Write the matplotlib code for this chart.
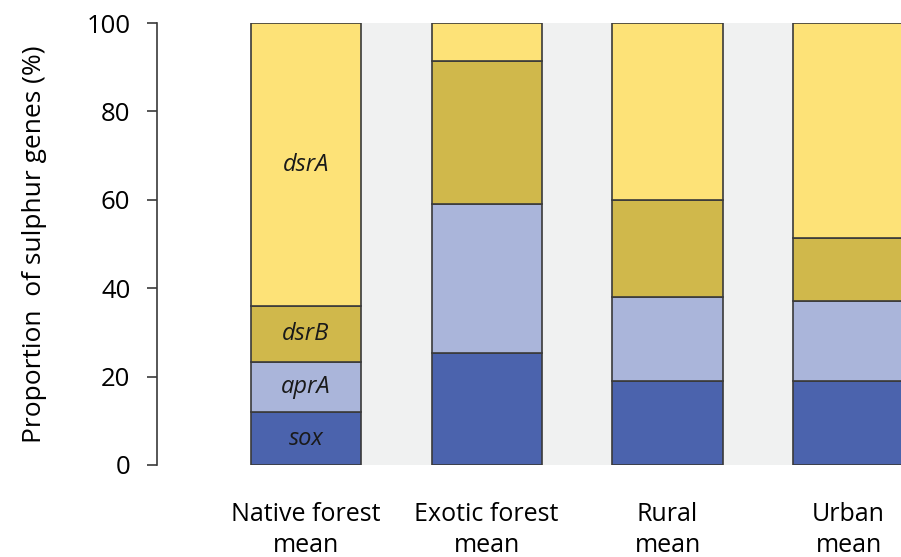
import matplotlib
matplotlib.use("Agg")
import matplotlib.pyplot as plt
import numpy as np

plt.rcParams["font.family"] = ["Open Sans", "DejaVu Sans"]

# data (percent of sulphur genes)
sites = ["Native forest\nmean", "Exotic forest\nmean", "Rural\nmean", "Urban\nmean"]
genes = ["sox", "aprA", "dsrB", "dsrA"]
sox = [11.9, 25.3, 19.1, 19.1]
aprA = [11.3, 33.8, 19.0, 18.1]
dsrB = [12.7, 32.4, 21.8, 14.1]
dsrA = [64.1, 8.5, 40.1, 48.7]

colors = ["#4b63ad", "#aab5da", "#d0b84b", "#fde277"]

fig = plt.figure(figsize=(9.01, 5.57), dpi=100)
ax = fig.add_axes([0.1743, 0.1652, 0.8257, 0.7935])

x = np.arange(len(sites))
width = 0.61

# light grey band behind the bars, starting at the first bar's right edge
ax.axvspan(x[0] + width / 2, x[-1] + 1, ymin=0, ymax=1, color="#f0f1f1", zorder=0, lw=0)

bottom = np.zeros(len(sites))
for vals, c in zip([sox, aprA, dsrB, dsrA], colors):
    ax.bar(x, vals, width, bottom=bottom, color=c, edgecolor="#3a3a3a",
           linewidth=1.2, zorder=2)
    bottom += np.array(vals)

# gene names on the first bar
b = 0.0
for g, vals in zip(genes, [sox, aprA, dsrB, dsrA]):
    ax.text(x[0], b + vals[0] / 2, g, ha="center", va="center",
            fontsize=17, style="italic", color="#1a1a1a", zorder=3)
    b += vals[0]

ax.set_xlim(-0.822, 3.29)
ax.set_ylim(0, 100)
ax.set_yticks([0, 20, 40, 60, 80, 100])
ax.set_xticks(x)
ax.set_xticklabels(sites, fontsize=18, linespacing=1.3)
ax.tick_params(axis="x", length=0, pad=27)
ax.tick_params(axis="y", labelsize=18.5, length=7.2, width=1.2, direction="out",
               color="#3a3a3a", pad=12)
ax.set_ylabel("Proportion  of sulphur genes (%)", fontsize=19, labelpad=28)

for s in ["top", "right", "bottom"]:
    ax.spines[s].set_visible(False)
ax.spines["left"].set_linewidth(1.2)
ax.spines["left"].set_color("#3a3a3a")

fig.savefig("out.png", dpi=100)
